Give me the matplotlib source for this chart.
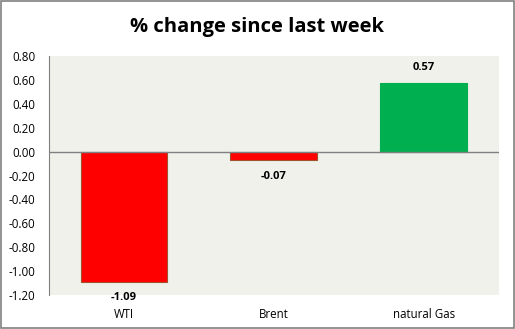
import matplotlib.pyplot as plt
import numpy as np

categories = ['WTI', 'Brent', 'natural Gas']
values = [-1.09, -0.07, 0.57]
yticks = [0.80, 0.60, 0.40, 0.20, 0.00, -0.20, -0.40, -0.60, -0.80, -1.00, -1.20]

plt.rcParams['font.family'] = ['Open Sans', 'DejaVu Sans']

fig = plt.figure(figsize=(5.15, 3.29), dpi=100)
fig.patch.set_facecolor('white')
ax = fig.add_axes([49 / 515, 1 - 295 / 329, 450 / 515, 239 / 329])
ax.set_facecolor('#eff1ea')

x = np.arange(len(categories))
colors = ['#ff0000' if v < 0 else '#00b050' for v in values]
edges = ['#a0522d' if v < 0 else '#00b050' for v in values]
ax.bar(x, values, width=0.58, color=colors, edgecolor=edges, linewidth=0.8, zorder=2)
ax.axhline(0, color='#808080', linewidth=1, zorder=3)

# value labels sit a fixed distance past the bar end
for xi, v in zip(x, values):
    off = -0.135 if v < 0 else 0.135
    ax.text(xi, v + off, '%.2f' % v, ha='center', va='center',
            fontsize=8, fontweight='bold')

ax.set_xlim(-0.5, 2.5)
ax.set_ylim(-1.2, 0.8)
ax.set_yticks(yticks)
ax.set_yticklabels(['%.2f' % t for t in yticks], fontsize=8.3)
ax.set_xticks(x)
ax.set_xticklabels(categories, fontsize=8.3)
ax.tick_params(axis='x', length=0, pad=9)
ax.tick_params(axis='y', length=0, pad=10)
for s in ['top', 'right', 'bottom']:
    ax.spines[s].set_visible(False)
ax.spines['left'].set_color('#808080')

fig.text(0.5, 1 - 27 / 329, '% change since last week', ha='center', va='center',
         fontsize=14.5, fontweight='bold')
fig.add_artist(plt.Rectangle((0.001, 0.002), 0.997, 0.995, transform=fig.transFigure,
                             fill=False, edgecolor='#808080', linewidth=1.2))

fig.savefig('out.png', dpi=100)
